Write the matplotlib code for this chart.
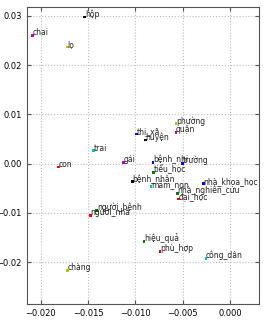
import matplotlib
matplotlib.use('Agg')
import matplotlib.pyplot as plt

# word embedding coordinates
words = ['hộp', 'chai', 'lọ', 'con', 'trai', 'gái', 'phường', 'quận', 'thị_xã', 'huyện',
         'bệnh_nhi', 'trường', 'tiểu_học', 'bệnh_nhân', 'mầm_non', 'nhà_khoa_học',
         'nhà_nghiên_cứu', 'đại_học', 'người_bệnh', 'người_nhà', 'chàng', 'hiệu_quả',
         'phù_hợp', 'công_dân']
xs = [-0.01536, -0.02088, -0.01716, -0.0181, -0.01441, -0.01128, -0.00571, -0.00571,
      -0.00986, -0.00891, -0.00814, -0.0050, -0.0081, -0.01033, -0.00835, -0.00278,
      -0.00557, -0.00546, -0.01409, -0.01473, -0.0172, -0.00909, -0.0074, -0.00254]
ys = [0.0298, 0.0261, 0.0237, -0.0007, 0.0026, 0.0003, 0.0081, 0.0064,
      0.0060, 0.0048, 0.0003, 0.0001, -0.0018, -0.0037, -0.0047, -0.0041,
      -0.0060, -0.0072, -0.0095, -0.0105, -0.0217, -0.0158, -0.0178, -0.0192]
colors = ['k', 'm', 'y', 'r', 'c', 'm', 'y', 'm', 'b', 'k',
          'b', 'b', 'g', 'k', 'c', 'b',
          'g', 'r', 'g', 'r', 'y', 'g',
          'r', 'c']

fig = plt.figure(figsize=(2.7, 3.22), dpi=100)
ax = fig.add_axes([0.099, 0.056, 0.861, 0.922])

ax.scatter(xs, ys, c=colors, s=4, marker='s', linewidths=0, zorder=3)
for w, x, y in zip(words, xs, ys):
    ax.annotate(w, (x, y), fontsize=5.5, color='#222222', zorder=4)

ax.set_xlim(-0.0215, 0.0031)
ax.set_ylim(-0.0285, 0.0318)
ax.set_xticks([-0.020, -0.015, -0.010, -0.005, 0.000])
ax.set_yticks([-0.02, -0.01, 0.00, 0.01, 0.02, 0.03])
ax.set_xticklabels(['\u22120.020', '\u22120.015', '\u22120.010', '\u22120.005', '0.000'])
ax.set_yticklabels(['\u22120.02', '\u22120.01', '0.00', '0.01', '0.02', '0.03'])
ax.tick_params(direction='in', labelsize=6, length=3, color='#555555', top=True, right=True)
ax.grid(True, linestyle=':', color='#bbbbbb', linewidth=0.8)
for s in ax.spines.values():
    s.set_color('#555555')

fig.savefig('out.png', dpi=100)
